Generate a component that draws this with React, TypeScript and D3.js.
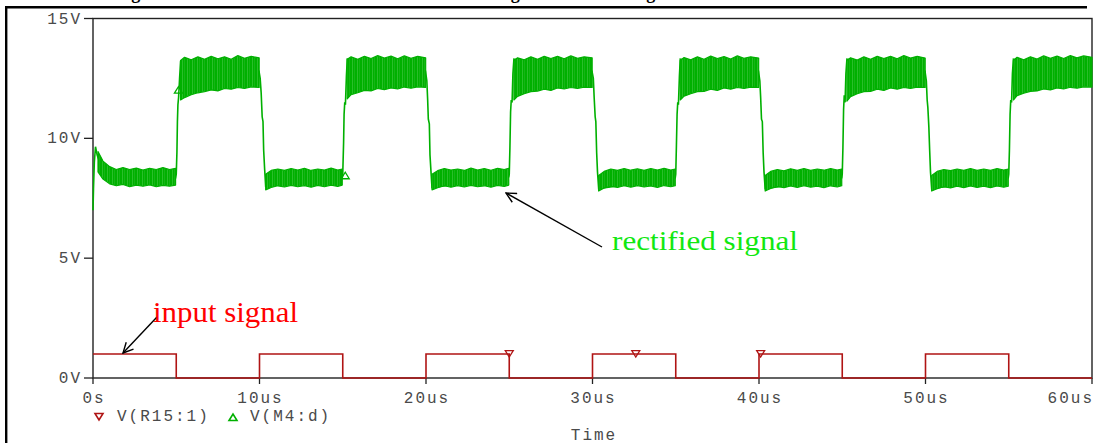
import React from "react";
import * as d3 from "d3";

// axis ticks
const xTicks = [0, 10, 20, 30, 40, 50, 60];
const xTickLabels = ["0s", "10us", "20us", "30us", "40us", "50us", "60us"];
const yTicks = [0, 5, 10, 15];
const yTickLabels = ["0V", "5V", "10V", "15V"];

// V(R15:1) input square wave [us, V], drawn as steps
const inputT = [0, 5, 10, 15, 20, 25, 30, 35, 40, 45, 50, 55, 60];
const inputV = [1, 0, 1, 0, 1, 0, 1, 0, 1, 0, 1, 0, 0];
const inputMarkers: [number, number][] = [[25, 1], [32.6, 1], [40.1, 1]];

// V(M4:d) rectified signal: skeleton trace incl. the edges [us, V]
const rectTrace: [number, number][] = [
  [0, 7.0], [0.03, 7.9], [0.08, 9.0], [0.15, 9.65], [0.25, 9.3], [0.45, 8.9], [0.8, 8.55], [1.5, 8.4], [4.96, 8.35],
  [5.0, 8.5], [5.04, 9.4], [5.07, 10.7], [5.1, 11.4], [5.14, 11.7], [5.2, 12.5], [5.26, 13.2], [9.97, 12.8],
  [10.04, 12.5], [10.1, 11.9], [10.16, 10.9], [10.21, 10.7], [10.25, 9.5], [10.31, 8.7], [10.37, 8.0], [14.97, 8.35],
  [15.0, 8.5], [15.05, 9.8], [15.08, 11.0], [15.12, 11.5], [15.16, 11.4], [15.22, 12.6], [15.27, 13.3], [19.97, 12.8],
  [20.05, 12.4], [20.1, 11.6], [20.14, 10.8], [20.2, 10.6], [20.24, 9.3], [20.3, 8.6], [20.36, 7.95], [24.97, 8.4],
  [25.0, 8.5], [25.04, 9.6], [25.08, 11.1], [25.12, 11.6], [25.17, 11.5], [25.22, 12.7], [25.28, 13.3], [29.97, 12.8],
  [30.05, 12.5], [30.1, 11.7], [30.16, 10.9], [30.2, 10.7], [30.25, 9.4], [30.3, 8.6], [30.37, 7.9], [34.97, 8.35],
  [35.0, 8.5], [35.04, 9.7], [35.08, 11.0], [35.12, 11.5], [35.16, 11.4], [35.22, 12.6], [35.27, 13.3], [39.97, 12.8],
  [40.05, 12.4], [40.1, 11.7], [40.15, 10.8], [40.2, 10.7], [40.25, 9.4], [40.3, 8.6], [40.37, 7.9], [44.97, 8.35],
  [45.0, 8.5], [45.04, 9.6], [45.08, 11.2], [45.12, 11.8], [45.17, 11.5], [45.22, 12.7], [45.28, 13.3], [49.97, 12.8],
  [50.05, 12.4], [50.1, 11.6], [50.14, 11.3], [50.2, 10.5], [50.25, 9.5], [50.3, 8.6], [50.37, 7.9], [54.97, 8.35],
  [55.0, 8.5], [55.04, 9.5], [55.08, 11.0], [55.12, 11.6], [55.17, 11.5], [55.22, 12.7], [55.28, 13.3], [60, 12.8],
];

// ripple envelope of the rectified signal [us, low V, high V]
const lowBands: [number, number, number][][] = [
  [[0.3, 8.6, 9.45], [0.6, 8.3, 9.05], [1.0, 8.1, 8.82], [1.4, 8.02, 8.7], [1.8, 8.08, 8.78], [2.2, 7.98, 8.7], [2.6, 8.05, 8.76], [3.0, 8.0, 8.68], [3.4, 8.06, 8.75], [3.8, 7.98, 8.7], [4.2, 8.04, 8.78], [4.6, 8.0, 8.7], [4.96, 8.05, 8.75]],
  [[10.37, 7.85, 8.5], [10.7, 7.95, 8.66], [11.1, 8.02, 8.72], [11.5, 7.97, 8.66], [11.9, 8.04, 8.74], [12.3, 7.98, 8.68], [12.7, 8.03, 8.75], [13.1, 7.96, 8.66], [13.5, 8.04, 8.72], [13.9, 7.98, 8.68], [14.3, 8.05, 8.76], [14.7, 7.99, 8.68], [14.97, 8.05, 8.72]],
  [[20.36, 7.85, 8.5], [20.7, 7.94, 8.65], [21.1, 8.02, 8.74], [21.5, 7.96, 8.68], [21.9, 8.03, 8.72], [22.3, 7.97, 8.66], [22.7, 8.04, 8.76], [23.1, 7.98, 8.68], [23.5, 8.02, 8.74], [23.9, 7.96, 8.67], [24.3, 8.04, 8.75], [24.7, 7.99, 8.7], [24.97, 8.05, 8.75]],
  [[30.37, 7.8, 8.45], [30.7, 7.93, 8.62], [31.1, 8.0, 8.72], [31.5, 7.95, 8.66], [31.9, 8.02, 8.74], [32.3, 7.96, 8.67], [32.7, 8.03, 8.73], [33.1, 7.97, 8.66], [33.5, 8.01, 8.74], [33.9, 7.95, 8.68], [34.3, 8.03, 8.75], [34.7, 7.98, 8.68], [34.97, 8.02, 8.72]],
  [[40.37, 7.8, 8.45], [40.7, 7.91, 8.62], [41.1, 7.99, 8.7], [41.5, 7.94, 8.64], [41.9, 8.01, 8.73], [42.3, 7.95, 8.66], [42.7, 8.02, 8.74], [43.1, 7.96, 8.66], [43.5, 8.0, 8.72], [43.9, 7.94, 8.67], [44.3, 8.02, 8.74], [44.7, 7.97, 8.68], [44.97, 8.02, 8.72]],
  [[50.37, 7.8, 8.45], [50.7, 7.9, 8.62], [51.1, 7.98, 8.7], [51.5, 7.93, 8.65], [51.9, 8.0, 8.72], [52.3, 7.94, 8.66], [52.7, 8.01, 8.74], [53.1, 7.95, 8.66], [53.5, 8.0, 8.72], [53.9, 7.94, 8.66], [54.3, 8.01, 8.74], [54.7, 7.96, 8.68], [54.97, 8.0, 8.72]],
];
const highBands: [number, number, number][][] = [
  [[5.26, 11.6, 13.25], [5.5, 11.7, 13.38], [5.9, 11.82, 13.28], [6.3, 11.9, 13.4], [6.7, 11.95, 13.3], [7.1, 12.02, 13.42], [7.5, 11.98, 13.32], [7.9, 12.08, 13.4], [8.3, 12.05, 13.3], [8.7, 12.12, 13.45], [9.1, 12.08, 13.34], [9.5, 12.15, 13.42], [9.98, 12.12, 13.36]],
  [[15.27, 11.65, 13.3], [15.5, 11.82, 13.4], [15.9, 11.9, 13.3], [16.3, 12.0, 13.42], [16.7, 11.98, 13.33], [17.1, 12.08, 13.45], [17.5, 12.03, 13.35], [17.9, 12.1, 13.43], [18.3, 12.06, 13.32], [18.7, 12.14, 13.44], [19.1, 12.09, 13.34], [19.5, 12.15, 13.42], [19.98, 12.13, 13.36]],
  [[25.28, 11.6, 13.25], [25.5, 11.75, 13.36], [25.9, 11.86, 13.28], [26.3, 11.95, 13.4], [26.7, 11.97, 13.3], [27.1, 12.05, 13.42], [27.5, 12.0, 13.33], [27.9, 12.1, 13.42], [28.3, 12.06, 13.32], [28.7, 12.12, 13.44], [29.1, 12.08, 13.34], [29.5, 12.14, 13.4], [29.98, 12.12, 13.36]],
  [[35.27, 11.6, 13.25], [35.5, 11.76, 13.37], [35.9, 11.86, 13.28], [36.3, 11.95, 13.4], [36.7, 11.96, 13.3], [37.1, 12.05, 13.43], [37.5, 12.0, 13.33], [37.9, 12.1, 13.41], [38.3, 12.05, 13.31], [38.7, 12.12, 13.44], [39.1, 12.08, 13.34], [39.5, 12.14, 13.4], [39.98, 12.12, 13.35]],
  [[45.28, 11.55, 13.25], [45.5, 11.74, 13.36], [45.9, 11.86, 13.27], [46.3, 11.95, 13.4], [46.7, 11.96, 13.3], [47.1, 12.05, 13.42], [47.5, 12.0, 13.33], [47.9, 12.1, 13.42], [48.3, 12.05, 13.32], [48.7, 12.12, 13.45], [49.1, 12.08, 13.35], [49.5, 12.14, 13.42], [49.98, 12.12, 13.35]],
  [[55.28, 11.6, 13.25], [55.5, 11.78, 13.38], [55.9, 11.88, 13.28], [56.3, 11.96, 13.4], [56.7, 11.98, 13.31], [57.1, 12.06, 13.44], [57.5, 12.02, 13.34], [57.9, 12.1, 13.43], [58.3, 12.06, 13.33], [58.7, 12.13, 13.45], [59.1, 12.09, 13.36], [59.5, 12.15, 13.44], [60, 12.14, 13.38]],
];
const rectMarkers: [number, number][] = [[5.13, 12.03], [15.15, 8.46]];

const W = 1096;
const H = 443;
const mono = "'Liberation Mono', monospace";
const serif = "'Liberation Serif', 'Times New Roman', serif";
const axisGrey = "#4a4a4a";
const red = "#b01414";
const green = "#00b000";

const App = () => {
  const x = d3.scaleLinear().domain([0, 60]).range([93, 1092]);
  const y = d3.scaleLinear().domain([0, 15]).range([378, 18.5]);

  const inputLine = d3
    .line<number>()
    .x((_, i) => x(inputT[i]))
    .y((v) => y(v))
    .curve(d3.curveStepAfter)(inputV);

  const rectLine = d3
    .line<[number, number]>()
    .x((d) => x(d[0]))
    .y((d) => y(d[1]))(rectTrace);

  const band = d3
    .area<[number, number, number]>()
    .x((d) => x(d[0]))
    .y0((d) => y(d[1]))
    .y1((d) => y(d[2]));

  const downTri = (cx: number, cy: number) =>
    `M${cx - 4},${cy - 3.5}L${cx + 4},${cy - 3.5}L${cx},${cy + 3}Z`;
  const upTri = (cx: number, cy: number) =>
    `M${cx - 4},${cy + 3.5}L${cx + 4},${cy + 3.5}L${cx},${cy - 3}Z`;

  const axisText = { fontFamily: mono, fontSize: 16, letterSpacing: 2, fill: axisGrey };

  return (
    <svg
      width={W}
      height={H}
      style={{ position: "absolute", left: 0, top: 0, background: "#fff" }}
    >
      <defs>
        <pattern id="ripple" width="5" height="6" patternUnits="userSpaceOnUse">
          <rect width="5" height="6" fill={green} />
          <rect x="2" width="0.8" height="6" fill="#34c234" />
          <rect x="4" width="0.6" height="6" fill="#22b822" />
        </pattern>
        <marker id="arrow" viewBox="0 0 12 12" refX="11" refY="6" markerWidth="12" markerHeight="12" orient="auto" markerUnits="userSpaceOnUse">
          <path d="M1,1 L11,6 L1,11" fill="none" stroke="#000" strokeWidth={1.4} />
        </marker>
      </defs>

      {/* cut-off title, only the descenders show */}
      <text x={91} y={-1} fontFamily={serif} fontWeight="bold" fontSize={18} fill="#000">
        Voltage of the source and the drain with the rectified signal of M4 at the gate
      </text>

      {/* outer frame */}
      <line x1={5} x2={1087} y1={7.3} y2={7.3} stroke="#000" strokeWidth={2.4} />
      <line x1={6.2} x2={6.2} y1={6} y2={H} stroke="#000" strokeWidth={2.4} />

      {/* plot frame */}
      <rect x={93} y={18.5} width={999} height={359.5} fill="none" stroke="#222" strokeWidth={1.4} />

      {/* y axis */}
      {yTicks.map((t, i) => (
        <g key={t}>
          <line x1={84} x2={93} y1={y(t)} y2={y(t)} stroke="#222" strokeWidth={1.3} />
          <text x={82} y={y(t) + 5} textAnchor="end" {...axisText}>
            {yTickLabels[i]}
          </text>
        </g>
      ))}

      {/* x axis */}
      {xTicks.map((t, i) => (
        <g key={t}>
          <line x1={x(t)} x2={x(t)} y1={378} y2={384} stroke="#222" strokeWidth={1.3} />
          <text
            x={i === xTicks.length - 1 ? x(t) + 2 : x(t) + 1}
            y={403}
            textAnchor={i === xTicks.length - 1 ? "end" : "middle"}
            {...axisText}
          >
            {xTickLabels[i]}
          </text>
        </g>
      ))}
      <text x={594} y={439.5} textAnchor="middle" {...axisText}>
        Time
      </text>

      {/* legend */}
      <path d={downTri(99, 417)} fill="none" stroke={red} strokeWidth={1.6} />
      <text x={117} y={421} {...axisText}>
        V(R15:1)
      </text>
      <path d={upTri(233, 417)} fill="none" stroke={green} strokeWidth={1.6} />
      <text x={250} y={421} {...axisText}>
        V(M4:d)
      </text>

      {/* rectified signal */}
      <path d={rectLine ?? ""} fill="none" stroke={green} strokeWidth={1.6} />
      {[...lowBands, ...highBands].map((b, i) => (
        <path key={i} d={band(b) ?? ""} fill="url(#ripple)" stroke={green} strokeWidth={1.2} strokeLinejoin="round" />
      ))}
      {rectMarkers.map((m, i) => (
        <path key={i} d={upTri(x(m[0]), y(m[1]))} fill="none" stroke={green} strokeWidth={1.3} />
      ))}

      {/* input signal */}
      <path d={inputLine ?? ""} fill="none" stroke={red} strokeWidth={1.6} />
      {inputMarkers.map((m, i) => (
        <path key={i} d={downTri(x(m[0]), y(m[1]))} fill="none" stroke={red} strokeWidth={1.3} />
      ))}

      {/* annotations */}
      <line x1={602} y1={247} x2={506} y2={193} stroke="#000" strokeWidth={1.4} markerEnd="url(#arrow)" />
      <text x={612} y={250} fontFamily={serif} fontSize={28} textLength={186} lengthAdjust="spacingAndGlyphs" fill="#11e811">
        rectified signal
      </text>
      <line x1={157} y1={317} x2={123} y2={353} stroke="#000" strokeWidth={1.4} markerEnd="url(#arrow)" />
      <text x={153} y={322} fontFamily={serif} fontSize={30} textLength={145} lengthAdjust="spacingAndGlyphs" fill="#ff0000">
        input signal
      </text>
    </svg>
  );
};

export default App;
